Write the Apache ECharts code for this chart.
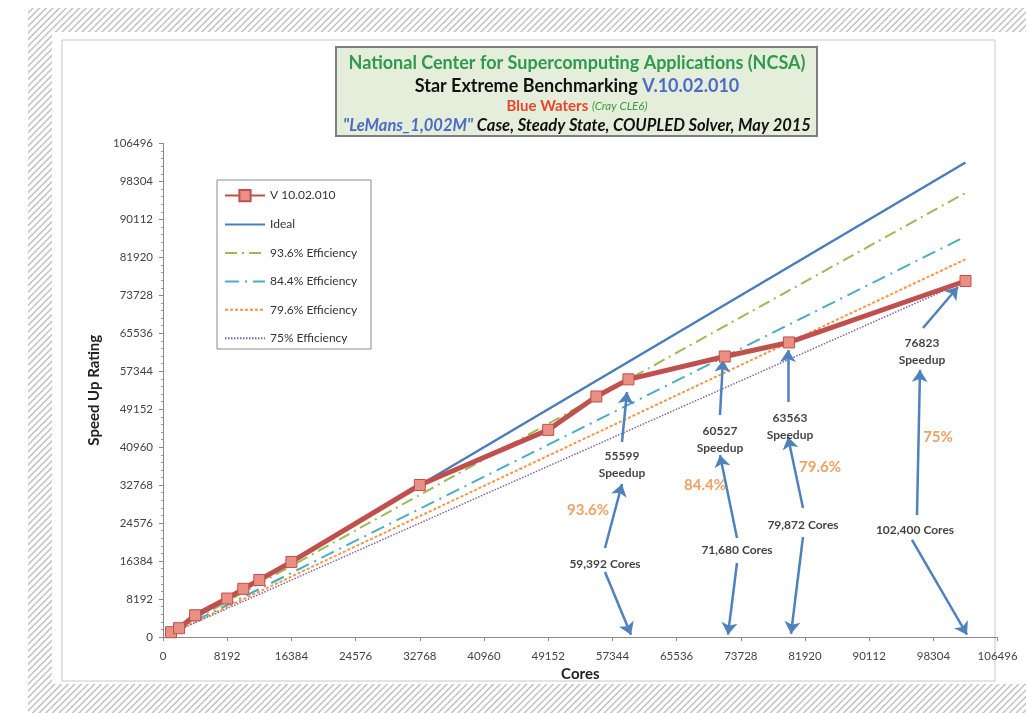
<!DOCTYPE html>
<html><head><meta charset="utf-8">
<script src="https://cdn.jsdelivr.net/npm/echarts@6/dist/echarts.min.js"></script>
<style>
html,body{margin:0;padding:0;width:1026px;height:713px;background:#fff;overflow:hidden;position:relative}
#hatch{position:absolute;left:28px;top:8px;width:998px;height:705px;background:repeating-linear-gradient(135deg,#fff 0,#fff 2.3px,#c6c6c6 3.1px,#c6c6c6 3.9px,#fff 4.7px)}
#panel{position:absolute;left:52px;top:32px;width:974px;height:652px;background:#fff}
#chart{position:absolute;left:0;top:0;width:1026px;height:713px}
</style></head>
<body><div id="hatch"></div><div id="panel"></div><div id="chart"></div>
<script>
// ---- data ----
const cores   = [1024, 2048, 4096, 8192, 10240, 12288, 16384, 32768, 49152, 55296, 59392, 71680, 79872, 102400];
const speedup = [1024, 1900, 4700, 8300, 10400, 12300, 16200, 32800, 44700, 51900, 55599, 60527, 63563, 76823];
const refCores = [1024, 102400];
const idealVals = [1024, 102400];
const eff936Vals = [958, 95846];
const eff844Vals = [864, 86426];
const eff796Vals = [815, 81510];
const eff75Vals = [768, 76800];
const seriesNames = ['V 10.02.010', 'Ideal', '93.6% Efficiency', '84.4% Efficiency', '79.6% Efficiency', '75% Efficiency'];
const axisMax = 106496;
const axisStep = 8192;

// annotation texts (data coordinates)
const noteTexts = [
  ['55599\nSpeedup', 58568, 37226],
  ['60527\nSpeedup', 71073, 42513],
  ['63563\nSpeedup', 80005, 45318],
  ['76823\nSpeedup', 96848, 61503],
  ['59,392 Cores', 56399, 15753],
  ['71,680 Cores', 73242, 18775],
  ['79,872 Cores', 81664, 24170],
  ['102,400 Cores', 95955, 23091]
];
const pctTexts = [
  ['93.6%', 54230, 27407],
  ['84.4%', 69159, 32802],
  ['79.6%', 83833, 36686],
  ['75%', 98890, 43160]
];
// arrows [x1,y1,x2,y2] (data coordinates), head at second point
const arrows = [
  [58568, 42081, 59206, 52871],
  [56399, 19206, 58568, 33017],
  [56399, 14027, 59717, 500],
  [71073, 47908, 71456, 59777],
  [73242, 21364, 71073, 39276],
  [73242, 15969, 72094, 500],
  [79750, 50713, 79750, 61935],
  [81664, 27838, 79750, 43160],
  [81664, 21580, 80133, 700],
  [96976, 66682, 101442, 75530],
  [96210, 26328, 96593, 57619],
  [95572, 20933, 102590, 500]
];

const pair = (xs, ys) => xs.map((x, i) => [x, ys[i]]);
const FONT = 'Lato, "Open Sans", sans-serif';

const chart = echarts.init(document.getElementById('chart'), null, {renderer: 'canvas'});

const effLine = (name, vals, color, width, dash) => ({
  name, type: 'line', data: pair(refCores, vals), symbol: 'none', z: 3,
  lineStyle: {color, width, type: dash}, itemStyle: {color}, silent: true
});

chart.setOption({
  backgroundColor: 'transparent',
  animation: false,
  textStyle: {fontFamily: FONT},
  grid: {left: 163, top: 143.5, width: 834.6, height: 493.5, outerBoundsMode: 'none'},
  xAxis: {
    type: 'value', min: 0, max: axisMax, interval: axisStep,
    axisLine: {lineStyle: {color: '#8a8a8a', width: 1}},
    axisTick: {show: true, length: 4, lineStyle: {color: '#8a8a8a'}},
    axisLabel: {fontSize: 11.5, color: '#444', margin: 13, fontFamily: FONT, formatter: v => String(v)},
    splitLine: {show: false},
    name: 'Cores', nameLocation: 'middle', nameGap: 27,
    nameTextStyle: {fontSize: 15, fontWeight: 'bold', color: '#222', fontFamily: FONT}
  },
  yAxis: {
    type: 'value', min: 0, max: axisMax, interval: axisStep,
    axisLine: {show: true, lineStyle: {color: '#8a8a8a', width: 1}},
    axisTick: {show: true, length: 4, lineStyle: {color: '#8a8a8a'}},
    minorTick: {show: true, splitNumber: 5, length: 2, lineStyle: {color: '#9a9a9a'}},
    axisLabel: {fontSize: 11.5, color: '#444', margin: 10, fontFamily: FONT, formatter: v => String(v)},
    splitLine: {show: false},
    name: 'Speed Up Rating', nameLocation: 'middle', nameGap: 53,
    nameTextStyle: {fontSize: 15, fontWeight: 'bold', color: '#222', fontFamily: FONT}
  },
  legend: {
    data: seriesNames.map((n, i) => i === 0 ? {name: n} : {name: n, itemStyle: {opacity: 0}}),
    orient: 'vertical', left: 222, top: 181,
    itemWidth: 40, itemHeight: 14, itemGap: 16.4, padding: [8, 5, 5, 2],
    textStyle: {fontSize: 12, color: '#333', fontFamily: FONT},
    selectedMode: false
  },
  series: [
    {
      name: seriesNames[0], type: 'line', data: pair(cores, speedup), z: 6,
      symbol: 'rect', symbolSize: 11,
      lineStyle: {color: '#c0504d', width: 5},
      itemStyle: {color: '#eb8f84', borderColor: '#c0504d', borderWidth: 1}
    },
    effLine(seriesNames[1], idealVals, '#4a7ebb', 2.5, 'solid'),
    effLine(seriesNames[2], eff936Vals, '#9bbb59', 2, [12, 5, 2, 5]),
    effLine(seriesNames[3], eff844Vals, '#4bacc6', 2, [14, 6, 2, 6]),
    effLine(seriesNames[4], eff796Vals, '#f79646', 2, [3, 2]),
    effLine(seriesNames[5], eff75Vals, '#8064a2', 1.5, [1.5, 1.5]),
    {
      name: 'notes', type: 'scatter', symbolSize: 0, z: 8, silent: true,
      data: noteTexts.map(t => ({name: t[0], value: [t[1], t[2]]})),
      label: {show: true, position: 'inside', formatter: p => p.name, fontSize: 12, fontWeight: 'bold',
              color: '#111', lineHeight: 17, fontFamily: FONT},
      markLine: {
        silent: true, symbol: ['none', 'arrow'], symbolSize: 12, animation: false,
        label: {show: false},
        lineStyle: {color: '#4f81bd', width: 2.5, type: 'solid'},
        emphasis: {disabled: true},
        data: arrows.map(a => [{coord: [a[0], a[1]]}, {coord: [a[2], a[3]]}])
      }
    },
    {
      name: 'pct', type: 'scatter', symbolSize: 0, z: 8, silent: true,
      data: pctTexts.map(t => ({name: t[0], value: [t[1], t[2]]})),
      label: {show: true, position: 'inside', formatter: p => p.name, fontSize: 15, fontWeight: 'bold',
              color: '#ec8a3c', fontFamily: FONT}
    }
  ],
  graphic: [
    {type: 'rect', z: -1, shape: {x: 62, y: 40, width: 933, height: 641},
     style: {fill: null, stroke: '#c8c8c8', lineWidth: 1}},
    {type: 'rect', z: 1, shape: {x: 336, y: 47, width: 481, height: 89},
     style: {fill: '#e5eedb', stroke: '#7f7f7f', lineWidth: 2}},
    {type: 'text', z: 2, x: 577, y: 63, style: {text: 'National Center for Supercomputing Applications (NCSA)',
      fill: '#2f9a4c', font: 'bold 18px ' + FONT, align: 'center', verticalAlign: 'middle'}},
    {type: 'text', z: 2, x: 577, y: 86.5, style: {
      text: '{a|Star Extreme Benchmarking }{b|V.10.02.010}', align: 'center', verticalAlign: 'middle',
      rich: {a: {fill: '#111', fontSize: 18, fontWeight: 'bold', fontFamily: FONT},
             b: {fill: '#4a6cc4', fontSize: 18, fontWeight: 'bold', fontFamily: FONT}}}},
    {type: 'text', z: 2, x: 577, y: 106.5, style: {
      text: '{a|Blue Waters }{b|(Cray CLE6)}', align: 'center', verticalAlign: 'middle',
      rich: {a: {fill: '#e8462c', fontSize: 15, fontWeight: 'bold', fontFamily: FONT},
             b: {fill: '#3d9a3d', fontSize: 11.5, fontStyle: 'italic', fontFamily: FONT}}}},
    {type: 'text', z: 2, x: 577, y: 126, style: {
      text: '{a|"LeMans_1,002M"}{b| Case, Steady State, COUPLED Solver, May 2015}', align: 'center', verticalAlign: 'middle',
      rich: {a: {fill: '#4a6cc4', fontSize: 16.5, fontWeight: 'bold', fontStyle: 'italic', fontFamily: FONT},
             b: {fill: '#111', fontSize: 16.5, fontWeight: 'bold', fontStyle: 'italic', fontFamily: FONT}}}},
    {type: 'rect', z: 0, shape: {x: 217, y: 180, width: 154, height: 169},
     style: {fill: '#fff', stroke: '#8c8c8c', lineWidth: 1}}
  ]
});
</script>
</body></html>
